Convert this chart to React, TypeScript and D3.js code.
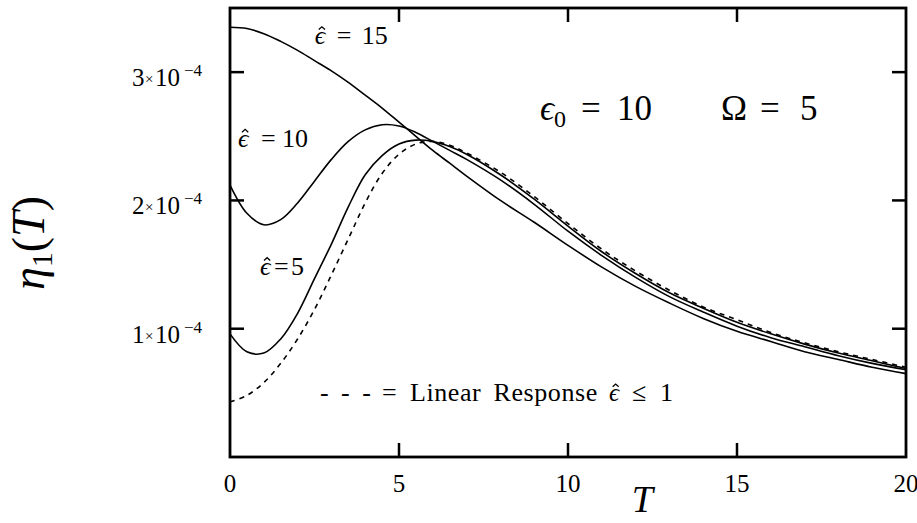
import React from 'react';
import * as d3 from 'd3';

// time axis samples
const tValues = [0, 0.5, 1, 1.5, 2, 2.5, 3, 3.5, 4, 4.5, 5, 5.5, 6, 6.5, 7, 8, 9, 10, 11, 12, 13, 14, 15, 16, 17, 18, 19, 20];

// eta_1(T) in units of 1e-4
const eps15 = [3.35, 3.34, 3.30, 3.24, 3.17, 3.09, 3.01, 2.92, 2.82, 2.72, 2.61, 2.50, 2.39, 2.29, 2.19, 2.00, 1.83, 1.65, 1.48, 1.33, 1.20, 1.08, 0.98, 0.90, 0.82, 0.76, 0.70, 0.65];
const eps10 = [2.12, 1.90, 1.81, 1.85, 1.98, 2.15, 2.32, 2.46, 2.55, 2.59, 2.58, 2.53, 2.46, 2.39, 2.32, 2.16, 1.97, 1.76, 1.57, 1.40, 1.25, 1.13, 1.02, 0.93, 0.86, 0.79, 0.73, 0.68];
const eps5 = [0.96, 0.82, 0.81, 0.92, 1.12, 1.39, 1.66, 1.95, 2.20, 2.35, 2.44, 2.47, 2.46, 2.42, 2.36, 2.20, 2.01, 1.80, 1.60, 1.43, 1.28, 1.16, 1.05, 0.96, 0.88, 0.81, 0.75, 0.69];
const linearResponse = [0.43, 0.48, 0.58, 0.73, 0.92, 1.15, 1.42, 1.70, 1.98, 2.21, 2.36, 2.44, 2.46, 2.43, 2.37, 2.22, 2.03, 1.82, 1.62, 1.45, 1.30, 1.17, 1.07, 0.97, 0.89, 0.82, 0.76, 0.70];

const xTicks = [0, 5, 10, 15, 20];
const yTicks = [1, 2, 3];

const W = 917;
const H = 523;
const margin = { top: 8, right: 11, bottom: 66, left: 230 };
const serif = 'Liberation Serif, DejaVu Serif, serif';

// italic epsilon with a drawn hat over it
function HatEps({ x, y, size }: { x: number; y: number; size: number }) {
    const cx = x + size * 0.27;
    const top = y - size * 0.66;
    const w = size * 0.12;
    return (
        <g>
            <text x={x} y={y} fontSize={size} fontStyle="italic">ϵ</text>
            <path d={`M${cx - w},${top + w * 0.9} L${cx},${top} L${cx + w},${top + w * 0.9}`}
                fill="none" stroke="#000" strokeWidth={1.3} />
        </g>
    );
}

export default function App() {
    const x = d3.scaleLinear().domain([0, 20]).range([margin.left, W - margin.right]);
    const y = d3.scaleLinear().domain([0, 3.5]).range([H - margin.bottom, margin.top]);

    const line = d3
        .line<number>()
        .x((_, i) => x(tValues[i]))
        .y(d => y(d))
        .curve(d3.curveCatmullRom.alpha(0.5));

    const x0 = x(0), x1 = x(20), y0 = y(0), y1 = y(3.5);
    const tick = 14;

    const l15 = { x: x(2.51), y: y(3.22) };
    const l10 = { x: x(0.24), y: y(2.42) };
    const l5 = { x: x(0.89), y: y(1.42) };
    const lg = { x: x(2.66), y: y(0.44) };

    return (
        <svg width={W} height={H} style={{ position: 'absolute', left: 0, top: 0, background: '#fff', fontFamily: serif }}>
            {/* curves */}
            <g fill="none" stroke="#000" strokeWidth={1.6}>
                <path d={line(eps15) || ''} />
                <path d={line(eps10) || ''} />
                <path d={line(eps5) || ''} />
                <path d={line(linearResponse) || ''} strokeDasharray="5,5" />
            </g>

            {/* frame */}
            <rect x={x0} y={y1} width={x1 - x0} height={y0 - y1} fill="none" stroke="#000" strokeWidth={2.8} />

            {/* ticks on all four sides, pointing inward */}
            <g stroke="#000" strokeWidth={2.5}>
                {xTicks.slice(1, -1).map(t => (
                    <g key={'xt' + t}>
                        <line x1={x(t)} x2={x(t)} y1={y0} y2={y0 - tick} />
                        <line x1={x(t)} x2={x(t)} y1={y1} y2={y1 + tick} />
                    </g>
                ))}
                {yTicks.map(v => (
                    <g key={'yt' + v}>
                        <line x1={x0} x2={x0 + tick} y1={y(v)} y2={y(v)} />
                        <line x1={x1} x2={x1 - tick} y1={y(v)} y2={y(v)} />
                    </g>
                ))}
            </g>

            <g fill="#000">
                {xTicks.map(t => (
                    <text key={'xl' + t} x={x(t)} y={y0 + 35} fontSize={25} textAnchor="middle">{t}</text>
                ))}
                {yTicks.map(v => (
                    <text key={'yl' + v} y={y(v) + 14} fontSize={25}>
                        <tspan x={x0 - 98}>{v}</tspan>
                        <tspan x={x0 - 85} fontSize={15} dy={-2}>×</tspan>
                        <tspan x={x0 - 75} dy={2}>10</tspan>
                        <tspan x={x0 - 46} fontSize={17} dy={-10}>−4</tspan>
                    </text>
                ))}

                {/* axis titles */}
                <text x={x(12.2)} y={512} fontSize={38} fontStyle="italic" textAnchor="middle">T</text>
                <text transform="translate(44,243) rotate(-90)" fontSize={46} textAnchor="middle">
                    <tspan fontStyle="italic">η</tspan>
                    <tspan fontSize={30} dy={8}>1</tspan>
                    <tspan dy={-8}>(</tspan>
                    <tspan fontStyle="italic">T</tspan>
                    <tspan>)</tspan>
                </text>

                {/* curve labels */}
                <HatEps x={l15.x} y={l15.y} size={26} />
                <text y={l15.y} fontSize={26}>
                    <tspan x={l15.x + 22}>=</tspan>
                    <tspan x={l15.x + 47}>15</tspan>
                </text>
                <HatEps x={l10.x} y={l10.y} size={26} />
                <text y={l10.y} fontSize={26}>
                    <tspan x={l10.x + 23}>=</tspan>
                    <tspan x={l10.x + 44}>10</tspan>
                </text>
                <HatEps x={l5.x} y={l5.y} size={26} />
                <text y={l5.y} fontSize={26}>
                    <tspan x={l5.x + 14}>=</tspan>
                    <tspan x={l5.x + 31}>5</tspan>
                </text>

                {/* parameters */}
                <text y={y(2.63)} fontSize={35}>
                    <tspan x={x(9.17)} fontStyle="italic">ϵ</tspan>
                    <tspan fontSize={24} dy={7}>0</tspan>
                    <tspan x={x(9.17) + 41} dy={-7}>=</tspan>
                    <tspan x={x(9.17) + 77}>10</tspan>
                    <tspan x={x(14.53)}>Ω</tspan>
                    <tspan x={x(14.53) + 39}>=</tspan>
                    <tspan x={x(14.53) + 79}>5</tspan>
                </text>

                {/* legend for the dashed curve */}
                <text y={lg.y} fontSize={26}>
                    <tspan x={lg.x} letterSpacing={3}>- - -</tspan>
                    <tspan x={lg.x + 62}>=</tspan>
                    <tspan x={lg.x + 90} letterSpacing={0.6} wordSpacing={5}>Linear Response</tspan>
                    <tspan x={lg.x + 312}>≤</tspan>
                    <tspan x={lg.x + 340}>1</tspan>
                </text>
                <HatEps x={lg.x + 289} y={lg.y} size={25} />
            </g>
        </svg>
    );
}
